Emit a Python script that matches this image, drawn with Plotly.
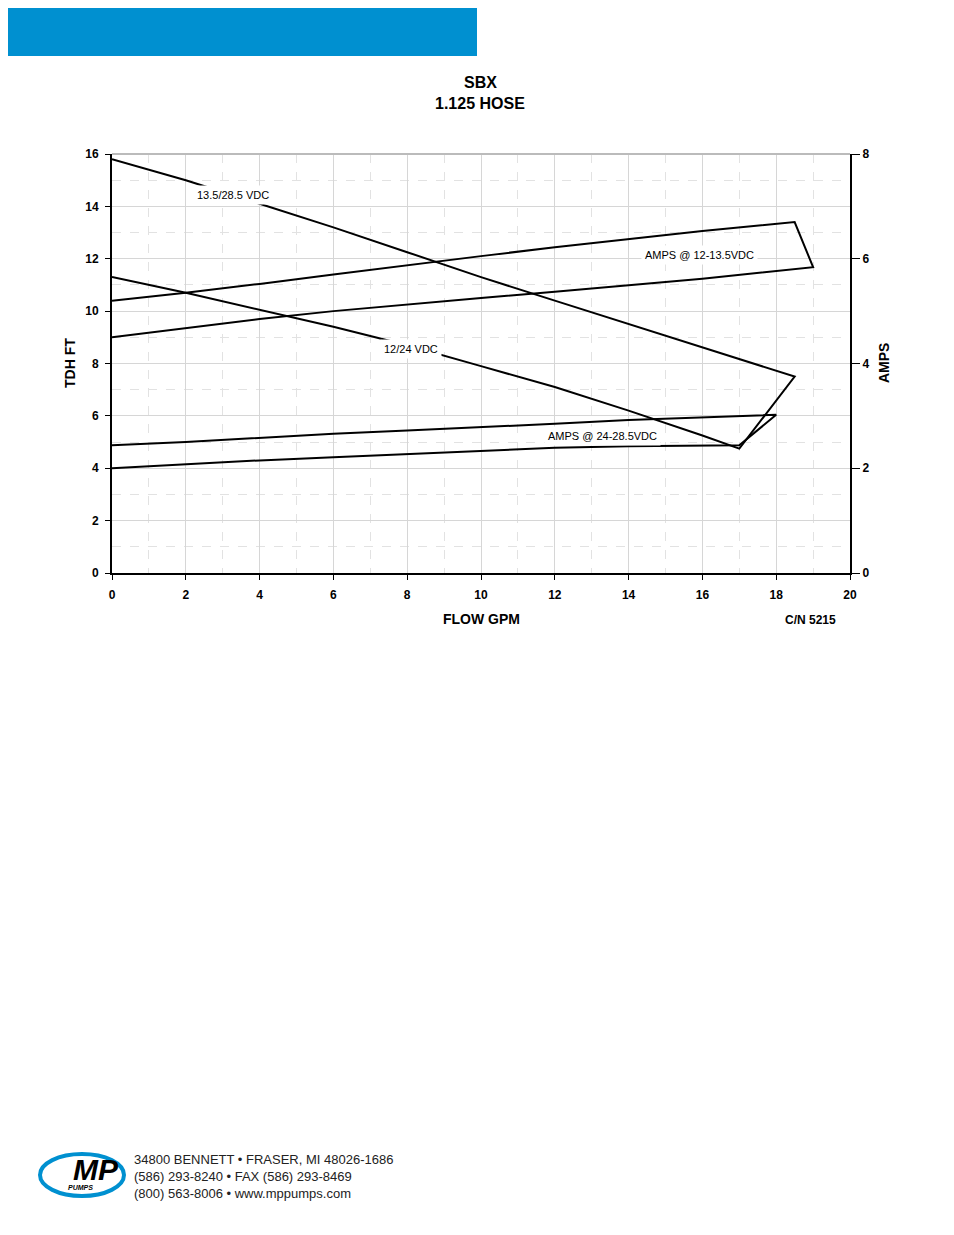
import plotly.graph_objects as go

# head curves (ft) vs flow (GPM)
head_hi_x = [0, 2, 4, 6, 8, 10, 12, 14, 16, 18.5]
head_hi_y = [15.8, 15.0, 14.1, 13.2, 12.25, 11.3, 10.4, 9.5, 8.6, 7.5]
head_lo_x = [0, 2, 4, 6, 8, 10, 12, 14, 16, 17]
head_lo_y = [11.3, 10.7, 10.05, 9.4, 8.7, 7.9, 7.1, 6.2, 5.25, 4.75]

# amps @ 12-13.5VDC
amps12_up_x = [0, 2, 4, 6, 8, 10, 12, 14, 16, 18.5]
amps12_up_y = [5.2, 5.35, 5.52, 5.7, 5.88, 6.05, 6.22, 6.38, 6.53, 6.7]
amps12_lo_x = [0, 2, 4, 6, 8, 10, 12, 14, 16, 19]
amps12_lo_y = [4.5, 4.68, 4.85, 5.0, 5.13, 5.25, 5.37, 5.5, 5.62, 5.84]

# amps @ 24-28.5VDC
amps24_up_x = [0, 2, 4, 6, 8, 10, 12, 14, 16, 18]
amps24_up_y = [2.44, 2.5, 2.58, 2.66, 2.72, 2.78, 2.85, 2.92, 2.97, 3.02]
amps24_lo_x = [0, 2, 4, 6, 8, 10, 12, 14, 16, 17]
amps24_lo_y = [2.0, 2.08, 2.15, 2.21, 2.27, 2.33, 2.39, 2.42, 2.43, 2.44]

W, H = 946, 1227   # page adds an 8px body margin
OFF = 8
L, R, T, B = 112 - OFF, 850 - OFF, 154 - OFF, 573 - OFF
def px(X): return (X - OFF - L) / (R - L)
def py(Y): return (B - (Y - OFF)) / (B - T)

line = dict(color="black", width=2)
fig = go.Figure()
fig.add_trace(go.Scatter(x=head_hi_x + head_lo_x[::-1], y=head_hi_y + head_lo_y[::-1],
                         mode="lines", line=line))
fig.add_trace(go.Scatter(x=amps12_lo_x + amps12_up_x[::-1], y=amps12_lo_y + amps12_up_y[::-1],
                         mode="lines", line=line, yaxis="y2"))
fig.add_trace(go.Scatter(x=amps24_lo_x + amps24_up_x[::-1], y=amps24_lo_y + amps24_up_y[::-1],
                         mode="lines", line=line, yaxis="y2"))

tickfont = dict(family="Liberation Sans, Arial", size=12, color="black")
grid = dict(showgrid=True, gridcolor="#d6d6d6", gridwidth=1,
            minor=dict(dtick=1, showgrid=True, gridcolor="#e2e2e2", griddash="dash"))

fig.update_layout(
    width=W, height=H, showlegend=False, plot_bgcolor="white", paper_bgcolor="white",
    margin=dict(l=L, r=W - R, t=T, b=H - B),
    xaxis=dict(range=[0, 20], dtick=2, linecolor="black", linewidth=2, ticks="outside",
               ticklen=5, tickcolor="black", tickfont=tickfont, zeroline=False,
               ticklabelstandoff=5, tickprefix="<b>", ticksuffix="</b>", **grid),
    yaxis=dict(range=[0, 16], dtick=2, linecolor="black", linewidth=2, ticks="outside",
               ticklen=5, tickcolor="black", tickfont=tickfont, zeroline=False,
               ticklabelstandoff=4, tickprefix="<b>", ticksuffix="</b>", **grid),
    yaxis2=dict(range=[0, 8], dtick=2, overlaying="y", side="right", showgrid=False,
                linecolor="black", linewidth=2, ticks="outside", ticklen=8, tickcolor="black",
                tickfont=tickfont, zeroline=False, tickprefix="<b>", ticksuffix="</b>"),
)

ann = []
def text(x, y, t, size=12, bold=False, xa="center", **kw):
    ann.append(dict(xref="paper", yref="paper", x=px(x), y=py(y), text=f"<b>{t}</b>" if bold else t,
                    showarrow=False, xanchor=xa, yanchor="middle",
                    font=dict(family="Liberation Sans, Arial", size=size, color="black"), **kw))

text(480, 82, "SBX", 16, True)
text(480, 104, "1.125 HOSE", 16, True)
text(481, 619, "FLOW GPM", 14, True)
text(810, 620, "C/N 5215", 12, True)
text(70, 363, "TDH FT", 14, True, textangle=-90)
text(884, 363, "AMPS", 14, True, textangle=-90)
for (x, y, t) in [(233, 195, "13.5/28.5 VDC"), (411, 349, "12/24 VDC"),
                  (699, 255, "AMPS @ 12-13.5VDC"), (602, 436, "AMPS @ 24-28.5VDC")]:
    text(x, y, t, 11, bgcolor="white", borderpad=3)
ann.append(dict(xref="paper", yref="paper", x=px(132), y=py(1176), xanchor="left", yanchor="middle",
                showarrow=False, align="left",
                text="34800 BENNETT • FRASER, MI 48026-1686<br>(586) 293-8240 • FAX (586) 293-8469<br>(800) 563-8006 • www.mppumps.com",
                font=dict(family="Liberation Sans, Arial", size=13, color="#222")))
ann.append(dict(xref="paper", yref="paper", x=px(96), y=py(1169), showarrow=False,
                xanchor="center", yanchor="middle",
                text="<b><i>MP</i></b>", font=dict(family="Liberation Sans, Arial", size=30, color="black")))
ann.append(dict(xref="paper", yref="paper", x=px(80), y=py(1187), showarrow=False,
                xanchor="center", yanchor="middle",
                text="<b><i>PUMPS</i></b>", font=dict(family="Liberation Sans, Arial", size=7, color="black")))
fig.update_layout(annotations=ann)

fig.update_layout(shapes=[
    dict(type="rect", xref="paper", yref="paper", x0=px(0), x1=px(477), y0=py(0), y1=py(56),
         fillcolor="#0090d0", line=dict(width=0)),
    dict(type="line", xref="paper", yref="paper", x0=0, x1=1, y0=1, y1=1,
         line=dict(color="#bbbbbb", width=2)),
    dict(type="circle", xref="paper", yref="paper", x0=px(40), x1=px(124), y0=py(1154), y1=py(1196),
         line=dict(color="#0090d0", width=4)),
])

fig.write_html("out.html")
